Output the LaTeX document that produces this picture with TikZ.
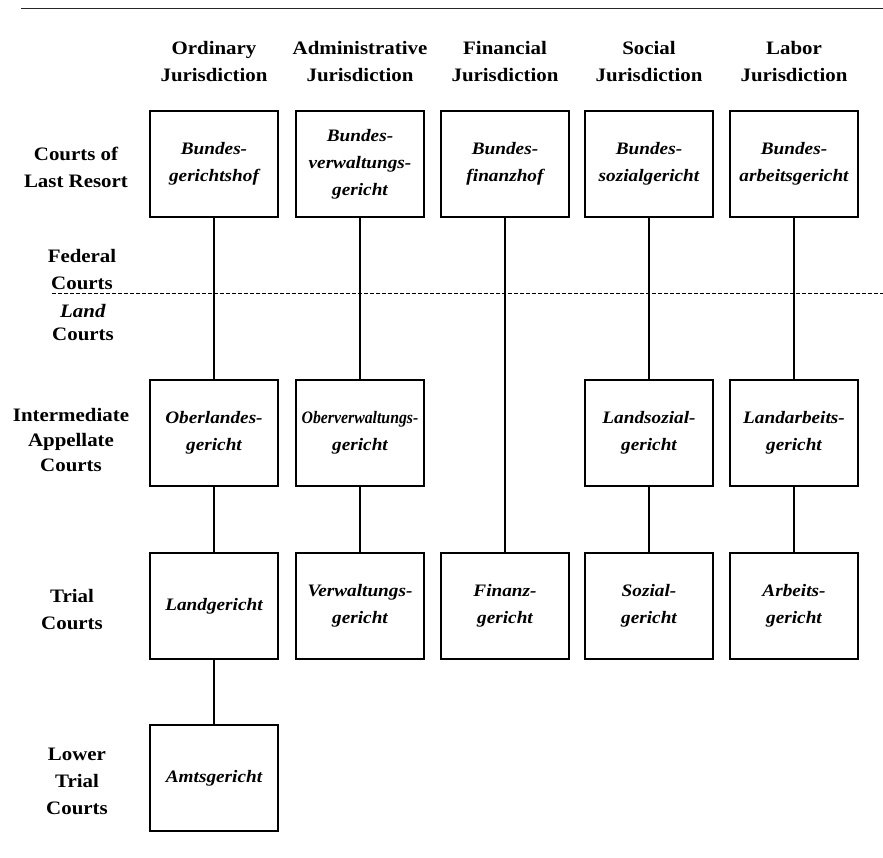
\documentclass[tikz,border=0pt]{standalone}
\usepackage{fontspec}
\setmainfont{Liberation Serif}[FakeStretch=1.1]
\begin{document}
\begin{tikzpicture}[x=1pt,y=-1pt,every node/.style={inner sep=0pt,align=center},
	court/.style={draw=black,line width=1.3pt,minimum width=128pt,minimum height=106pt,font=\fontsize{17.5}{27}\selectfont\bfseries\itshape},
	head/.style={font=\fontsize{19}{27}\selectfont\bfseries},
	lab/.style={font=\fontsize{19}{27}\selectfont\bfseries}]
	\useasboundingbox (0,0) rectangle (883,858);

	% rules
	\coordinate (t1) at (21,8.5);
	\coordinate (t2) at (883,8.5);
	\coordinate (d1) at (52,293);
	\coordinate (d2) at (883,293);
	\draw[line width=1.3pt,black!85] (t1) -- (t2);
	\draw[line width=0.9pt,dash pattern=on 4pt off 2pt] (d1) -- (d2);

	% column heads
	\node[head] (h1) at (214,62) {Ordinary\\Jurisdiction};
	\node[head] (h2) at (360,62) {Administrative\\Jurisdiction};
	\node[head] (h3) at (505,62) {Financial\\Jurisdiction};
	\node[head] (h4) at (649,62) {Social\\Jurisdiction};
	\node[head] (h5) at (794,62) {Labor\\Jurisdiction};

	% row labels
	\node[lab] (l1) at (76,167) {Courts of\\Last Resort};
	\node[lab] (l2) at (82,270) {Federal\\Courts};
	\node[lab,font=\fontsize{19}{23}\selectfont\bfseries] (l3) at (83,323) {\textit{Land}\\Courts};
	\node[lab,font=\fontsize{19}{25}\selectfont\bfseries] (l4) at (71,440) {Intermediate\\Appellate\\Courts};
	\node[lab] (l5) at (72,610) {Trial\\Courts};
	\node[lab] (l6) at (77,781) {Lower\\Trial\\Courts};

	% courts
	\node[court] (o1) at (214,164) {Bundes-\\gerichtshof};
	\node[court] (a1) at (360,164) {Bundes-\\verwaltungs-\\gericht};
	\node[court] (f1) at (505,164) {Bundes-\\finanzhof};
	\node[court] (s1) at (649,164) {Bundes-\\sozialgericht};
	\node[court] (w1) at (794,164) {Bundes-\\arbeitsgericht};

	\node[court] (o2) at (214,433) {Oberlandes-\\gericht};
	\node[court] (a2) at (360,433) {\scalebox{0.82}[1]{Oberverwaltungs-}\\gericht};
	\node[court] (s2) at (649,433) {Landsozial-\\gericht};
	\node[court] (w2) at (794,433) {Landarbeits-\\gericht};

	\node[court] (o3) at (214,606) {Landgericht};
	\node[court] (a3) at (360,606) {Verwaltungs-\\gericht};
	\node[court] (f3) at (505,606) {Finanz-\\gericht};
	\node[court] (s3) at (649,606) {Sozial-\\gericht};
	\node[court] (w3) at (794,606) {Arbeits-\\gericht};

	\node[court] (o4) at (214,778) {Amtsgericht};

	% connectors
	\draw[line width=1.1pt] (o1) -- (o2);
	\draw[line width=1.1pt] (o2) -- (o3);
	\draw[line width=1.1pt] (o3) -- (o4);
	\draw[line width=1.1pt] (a1) -- (a2);
	\draw[line width=1.1pt] (a2) -- (a3);
	\draw[line width=1.1pt] (f1) -- (f3);
	\draw[line width=1.1pt] (s1) -- (s2);
	\draw[line width=1.1pt] (s2) -- (s3);
	\draw[line width=1.1pt] (w1) -- (w2);
	\draw[line width=1.1pt] (w2) -- (w3);
\end{tikzpicture}
\end{document}
